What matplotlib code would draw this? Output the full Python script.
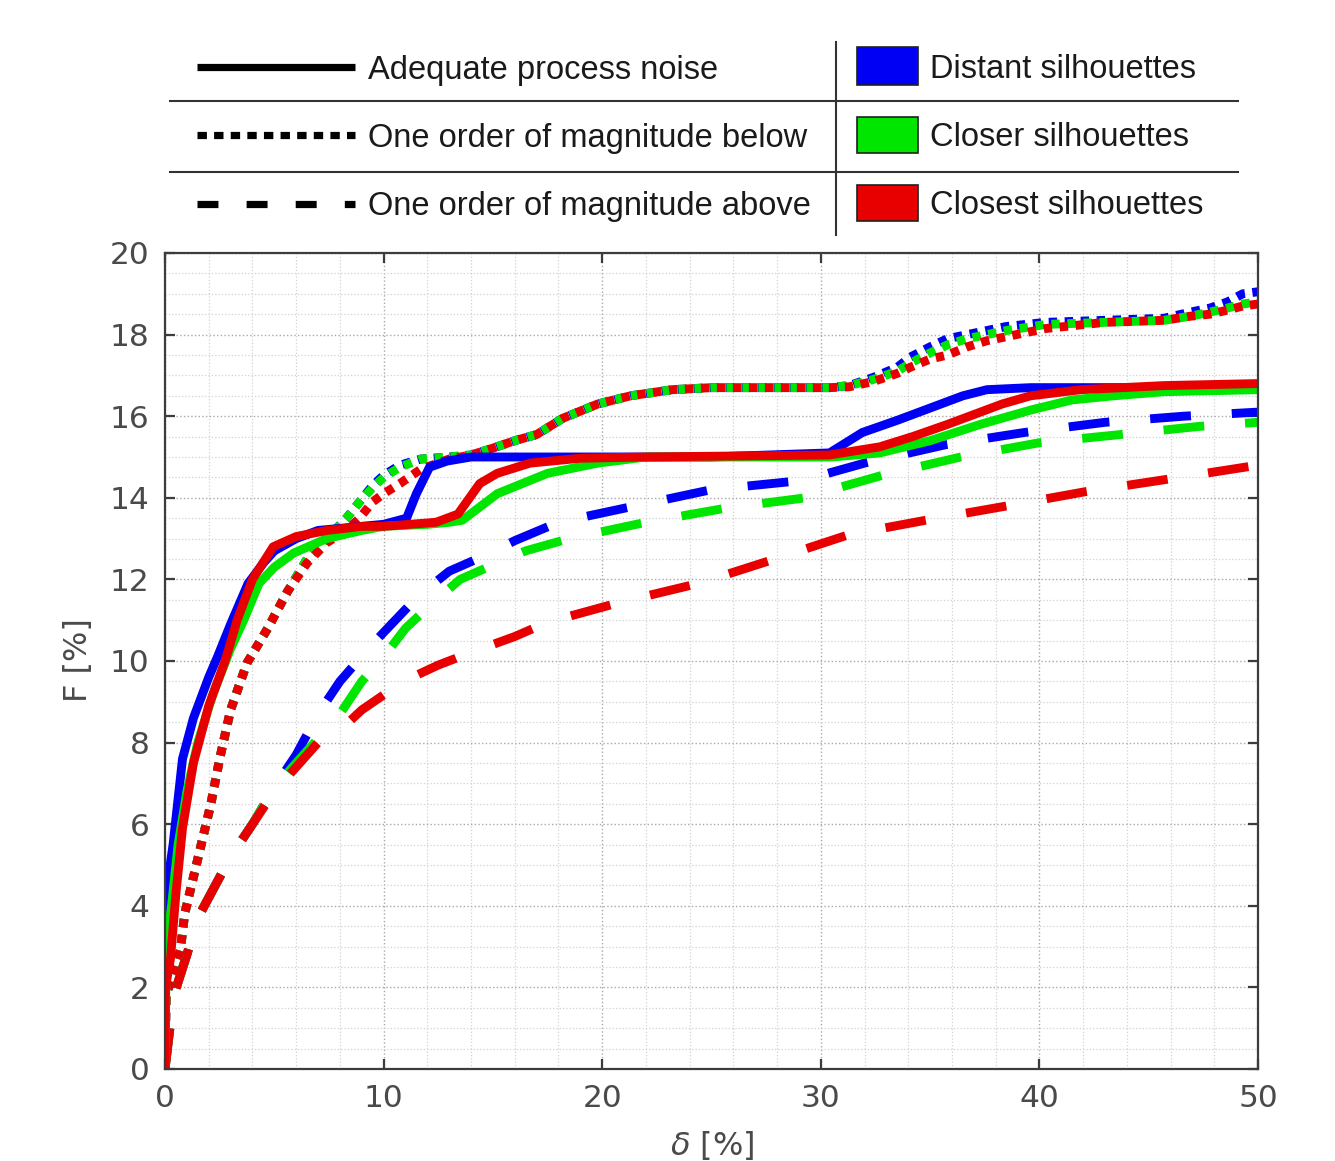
import matplotlib
matplotlib.use("Agg")
import matplotlib.pyplot as plt
from matplotlib.lines import Line2D
from matplotlib.patches import Rectangle
from matplotlib.ticker import MultipleLocator

# ---------------- data ----------------
# Adequate process noise (solid)
x_solid_blue = [0, 0.05, 0.1, 0.37, 0.8, 1.3, 2.0, 2.4, 3.0, 3.8, 4.5, 5.0, 6.0, 7.0, 8.0, 9.0, 10.0,
                11.05, 11.5, 12.1, 12.9, 14, 20, 25, 30.4, 31.9, 33.5, 35, 36.5, 37.6, 39.6, 45, 50]
y_solid_blue = [0, 3.5, 4.5, 5.5, 7.6, 8.6, 9.6, 10.1, 10.9, 11.9, 12.4, 12.7, 13.0, 13.2, 13.25, 13.3, 13.35,
                13.5, 14.1, 14.75, 14.9, 15.0, 15.0, 15.0, 15.1, 15.6, 15.9, 16.2, 16.5, 16.65, 16.7, 16.7, 16.7]

x_solid_green = [0, 0.05, 0.3, 0.6, 1.0, 1.5, 2.2, 3.0, 3.6, 4.3, 5.0, 5.9, 7.4, 9, 10, 12, 13.0, 13.6,
                 15.2, 17.5, 19.8, 22, 30.5, 32.7, 35, 37.3, 39.6, 41.5, 43.4, 45.7, 50]
y_solid_green = [0, 3.0, 4.0, 5.5, 6.8, 8.0, 9.2, 10.3, 11.0, 11.9, 12.3, 12.65, 13.0, 13.2, 13.3, 13.35, 13.4, 13.45,
                 14.1, 14.6, 14.85, 15.0, 15.0, 15.1, 15.4, 15.8, 16.15, 16.4, 16.5, 16.6, 16.65]

x_solid_red = [0, 0.02, 0.25, 0.5, 0.8, 1.3, 2.0, 2.75, 3.3, 4.0, 4.95, 6.0, 7.4, 9, 10, 12.4, 13.4, 14.4,
               15.2, 16.7, 19, 22, 30.4, 32.7, 34.2, 35.8, 37.3, 38.3, 39.6, 41.9, 45.7, 50]
y_solid_red = [0, 2.0, 2.7, 4.3, 5.9, 7.5, 8.9, 10.0, 11.0, 12.0, 12.8, 13.05, 13.2, 13.3, 13.3, 13.4, 13.6, 14.35,
               14.6, 14.85, 14.97, 15.0, 15.05, 15.25, 15.5, 15.8, 16.1, 16.3, 16.5, 16.65, 16.75, 16.8]

# One order of magnitude below (dotted)
x_dot = [0, 0.05, 0.4, 0.7, 0.9, 1.3, 1.7, 2.1, 2.5, 3.0, 3.75, 4.7, 5.6, 6.5, 7.4, 8.3, 8.9, 9.5, 10.0, 10.75,
         11.7, 13.0, 14.0, 14.9, 16.0, 17.0, 18.2, 19.8, 21.3, 23.2, 25, 28, 30.4, 31.3, 32.4, 33.5, 34.1, 35.0,
         35.8, 36.7, 37.6, 38.5, 40.3, 43.0, 45.7, 46.9, 47.8, 48.6, 49.3, 50]
y_dot_blue = [0, 1.8, 2.4, 2.9, 3.8, 4.7, 5.6, 6.5, 7.6, 8.8, 9.95, 10.8, 11.7, 12.5, 13.0, 13.5, 13.9, 14.3, 14.55, 14.8,
              14.95, 15.0, 15.05, 15.2, 15.4, 15.55, 15.95, 16.3, 16.5, 16.65, 16.7, 16.7, 16.7, 16.75, 16.95, 17.2,
              17.45, 17.7, 17.9, 18.0, 18.1, 18.2, 18.3, 18.35, 18.4, 18.55, 18.65, 18.8, 19.0, 19.05]
y_dot_green = [0, 1.8, 2.4, 2.9, 3.8, 4.7, 5.6, 6.5, 7.6, 8.8, 9.95, 10.8, 11.7, 12.5, 13.0, 13.5, 13.9, 14.25, 14.5, 14.75,
               14.95, 15.0, 15.05, 15.2, 15.4, 15.55, 15.95, 16.3, 16.5, 16.65, 16.7, 16.7, 16.7, 16.75, 16.9, 17.1,
               17.3, 17.55, 17.75, 17.9, 18.0, 18.1, 18.25, 18.3, 18.35, 18.45, 18.55, 18.65, 18.75, 18.8]
y_dot_red = [0, 1.8, 2.4, 2.9, 3.8, 4.7, 5.6, 6.5, 7.6, 8.8, 9.95, 10.8, 11.7, 12.4, 12.9, 13.2, 13.5, 13.9, 14.1, 14.35,
             14.7, 14.95, 15.05, 15.2, 15.4, 15.55, 15.95, 16.3, 16.5, 16.65, 16.7, 16.7, 16.7, 16.72, 16.85, 17.05,
             17.2, 17.4, 17.5, 17.7, 17.85, 17.95, 18.15, 18.3, 18.35, 18.45, 18.5, 18.6, 18.7, 18.75]

# One order of magnitude above (dashed)
x_dash_blue = [0, 0.4, 1.0, 1.5, 2.2, 3.0, 4.0, 5.0, 6.0, 7.0, 8.0, 9.3, 10.0, 11.6, 13.0, 14.7, 16.0, 18.0,
               21.5, 25.0, 28.7, 30.0, 32.0, 35.7, 39.3, 43.0, 46.6, 50]
y_dash_blue = [0, 1.8, 2.8, 3.7, 4.4, 5.2, 6.0, 6.9, 7.7, 8.7, 9.5, 10.3, 10.7, 11.6, 12.2, 12.6, 12.95, 13.4,
               13.8, 14.2, 14.4, 14.55, 14.85, 15.3, 15.6, 15.85, 16.0, 16.1]

x_dash_green = [0, 0.4, 1.0, 1.5, 2.2, 3.0, 4.0, 5.0, 6.0, 7.0, 8.0, 9.0, 10.0, 11.0, 12.3, 13.5, 15.2, 16.5,
                18.5, 22.0, 25.7, 29.3, 30.5, 32.8, 36.4, 40.0, 43.7, 47.3, 50]
y_dash_green = [0, 1.8, 2.8, 3.7, 4.4, 5.2, 6.0, 6.9, 7.5, 8.1, 8.7, 9.5, 10.1, 10.8, 11.45, 12.0, 12.4, 12.7,
                13.0, 13.4, 13.75, 14.0, 14.2, 14.55, 15.0, 15.35, 15.55, 15.75, 15.85]

x_dash_red = [0, 0.4, 1.0, 1.5, 2.2, 3.0, 4.0, 5.0, 6.0, 7.0, 8.2, 9.0, 10.9, 12.5, 14.2, 16.0, 17.5, 20.9,
              24.4, 27.9, 31.3, 34.8, 38.5, 42.1, 45.8, 50]
y_dash_red = [0, 1.8, 2.8, 3.7, 4.4, 5.2, 6.0, 6.8, 7.4, 8.0, 8.4, 8.8, 9.5, 9.9, 10.25, 10.6, 10.95, 11.45,
              11.9, 12.5, 13.1, 13.45, 13.8, 14.15, 14.45, 14.8]

x_ticks = [0, 10, 20, 30, 40, 50]
y_ticks = [0, 2, 4, 6, 8, 10, 12, 14, 16, 18, 20]
style_labels = ["Adequate process noise", "One order of magnitude below", "One order of magnitude above"]
color_labels = ["Distant silhouettes", "Closer silhouettes", "Closest silhouettes"]

# ---------------- styles ----------------
BLUE, GREEN, RED = "#0000f5", "#00e600", "#e80000"
LW = 6.4
DOT = (0, (0.95, 0.85))
DASH = (0, (4.6, 4.6))

W, H = 1335, 1161
fig = plt.figure(figsize=(W / 100, H / 100), dpi=100)
fig.patch.set_facecolor("white")

def fx(px):
    return px / W

def fy(py):
    return 1 - py / H

ax = fig.add_axes([fx(165), fy(1069), fx(1258) - fx(165), fy(253) - fy(1069)])

# dashed
for xs, ys, c in [(x_dash_blue, y_dash_blue, BLUE), (x_dash_green, y_dash_green, GREEN), (x_dash_red, y_dash_red, RED)]:
    ax.plot(xs, ys, color=c, lw=LW, linestyle=DASH, dash_capstyle="butt", solid_joinstyle="round")
# dotted
for ys, c in [(y_dot_blue, BLUE), (y_dot_green, GREEN), (y_dot_red, RED)]:
    ax.plot(x_dot, ys, color=c, lw=LW, linestyle=DOT, dash_capstyle="butt")
# solid
for xs, ys, c in [(x_solid_blue, y_solid_blue, BLUE), (x_solid_green, y_solid_green, GREEN), (x_solid_red, y_solid_red, RED)]:
    ax.plot(xs, ys, color=c, lw=LW, solid_capstyle="butt", solid_joinstyle="round")

ax.set_xlim(0, 50)
ax.set_ylim(0, 20)
ax.set_xticks(x_ticks)
ax.set_yticks(y_ticks)
ax.xaxis.set_minor_locator(MultipleLocator(2))
ax.yaxis.set_minor_locator(MultipleLocator(0.5))
ax.grid(which="major", linestyle=":", color="#a8a8a8", lw=1.0)
ax.grid(which="minor", linestyle=":", color="#d2d2d2", lw=0.9)
ax.set_axisbelow(True)

for s in ax.spines.values():
    s.set_color("#3c3c3c")
    s.set_linewidth(1.6)
ax.tick_params(which="major", direction="in", length=7, width=1.6, color="#3c3c3c",
               top=True, right=True, labelsize=22.5, labelcolor="#4a4a4a", pad=11)
ax.tick_params(which="minor", length=0)

fig.text(fx(78), fy(660), "F [%]", rotation=90, ha="center", va="center", fontsize=23, color="#4a4a4a")
fig.text(fx(712), fy(1146), r"$\delta$ [%]", ha="center", va="center", fontsize=23, color="#4a4a4a")

# ---------------- legend table ----------------
tc = "#1a1a1a"
fig.add_artist(Line2D([fx(170), fx(835)], [fy(101), fy(101)], color="#333333", lw=1.5))
fig.add_artist(Line2D([fx(170), fx(835)], [fy(172), fy(172)], color="#333333", lw=1.5))
fig.add_artist(Line2D([fx(838), fx(1238)], [fy(101), fy(101)], color="#333333", lw=1.5))
fig.add_artist(Line2D([fx(838), fx(1238)], [fy(172), fy(172)], color="#333333", lw=1.5))
fig.add_artist(Line2D([fx(836), fx(836)], [fy(42), fy(235)], color="#333333", lw=1.5))

ls_list = ["-", (0, (1.3, 1.0)), (0, (2.9, 3.9))]
row_y = [67, 135, 204]
for ls, py, lab in zip(ls_list, row_y, style_labels):
    fig.add_artist(Line2D([fx(197), fx(355)], [fy(py), fy(py)], color="black", lw=5.2,
                          linestyle=ls, dash_capstyle="butt", solid_capstyle="butt"))
    fig.text(fx(368), fy(py + 3), lab, ha="left", va="center", fontsize=23.5, color=tc,
             family="Liberation Sans")

patch_y = [(47, 85), (117, 153), (185, 221)]
for (y0, y1), c, lab in zip(patch_y, [BLUE, GREEN, RED], color_labels):
    fig.add_artist(Rectangle((fx(857), fy(y1)), fx(918) - fx(857), fy(y0) - fy(y1),
                             transform=fig.transFigure, facecolor=c, edgecolor="#202020", lw=1.2))
    fig.text(fx(930), fy((y0 + y1) / 2 + 3), lab, ha="left", va="center", fontsize=23.5, color=tc,
             family="Liberation Sans")

fig.savefig("out.png", dpi=100, facecolor="white")
